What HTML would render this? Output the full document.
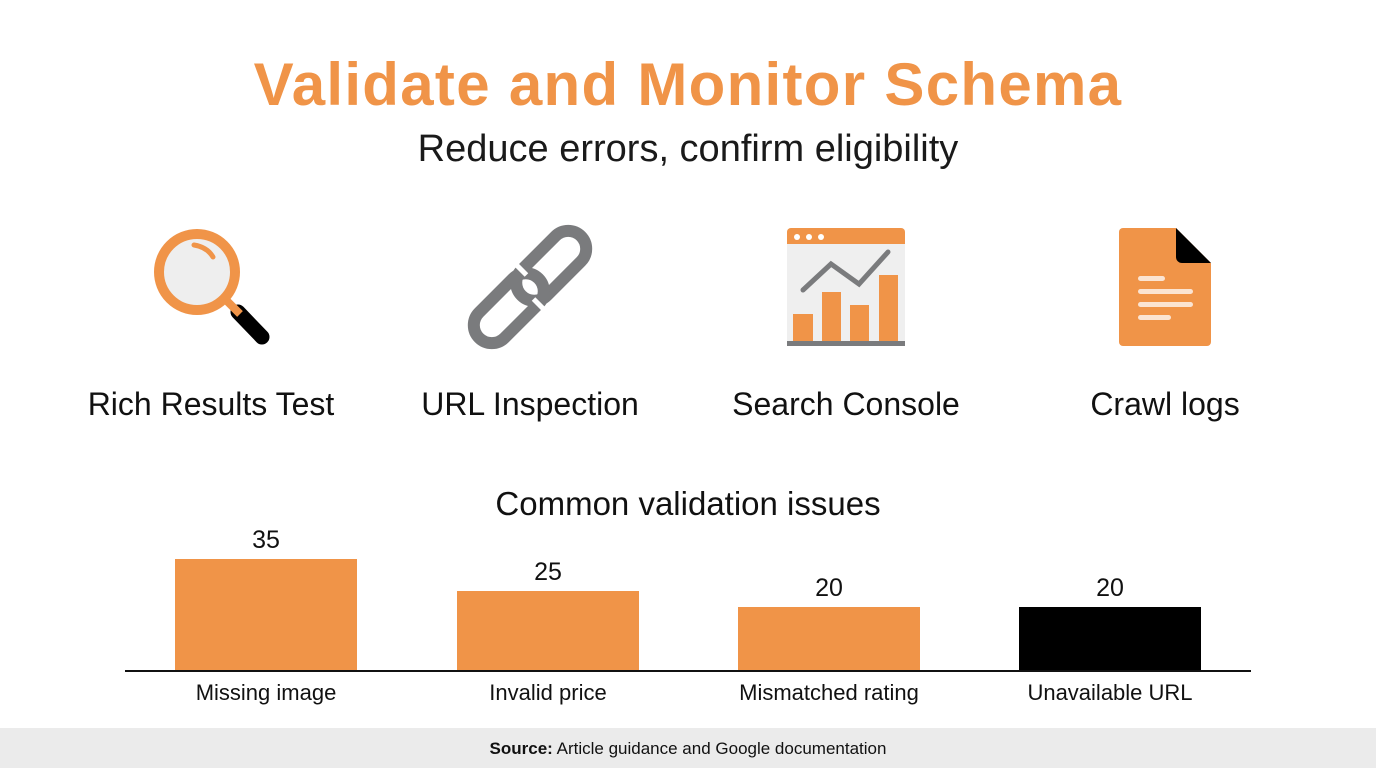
<!DOCTYPE html>
<html><head><meta charset="utf-8"><style>
html,body{margin:0;padding:0;background:#fff;}
body{width:1376px;height:768px;position:relative;overflow:hidden;font-family:"Liberation Sans",sans-serif;color:#111;}
.t{position:absolute;white-space:nowrap;transform:translateX(-50%);line-height:1;}
.bar{position:absolute;background:#F09448;}
</style></head><body>
<div class="t" style="left:688px;top:55px;font-size:60px;font-weight:bold;color:#F09448;letter-spacing:1.3px;">Validate and Monitor Schema</div>
<div class="t" style="left:688px;top:130px;font-size:38px;color:#1a1a1a;">Reduce errors, confirm eligibility</div>

<svg width="1376" height="400" style="position:absolute;left:0;top:0">
  <!-- magnifier -->
  <line x1="238" y1="312" x2="262" y2="337" stroke="#000" stroke-width="15" stroke-linecap="round"/>
  <line x1="226" y1="300" x2="240" y2="314" stroke="#F09448" stroke-width="8"/>
  <circle cx="197" cy="272" r="38" fill="#eeeeee" stroke="#F09448" stroke-width="10"/>
  <path d="M194 245 Q207 247 213 257" fill="none" stroke="#F09448" stroke-width="5" stroke-linecap="round"/>
  <!-- link -->
  <g transform="rotate(-45 530 287)" fill="none" stroke-width="12" stroke="#7a7b7d">
    <rect x="518" y="269" width="84" height="36" rx="18"/>
    <rect x="458" y="269" width="84" height="36" rx="18"/>
    <line x1="536" y1="262" x2="536" y2="276" stroke="#fff" stroke-width="5"/>
    <line x1="524" y1="298" x2="524" y2="312" stroke="#fff" stroke-width="5"/>
  </g>
  <!-- console -->
  <rect x="787" y="228" width="118" height="118" rx="4" fill="#efefef"/>
  <path d="M787 244 V232 a4 4 0 0 1 4 -4 H901 a4 4 0 0 1 4 4 V244 Z" fill="#F09448"/>
  <circle cx="797" cy="237" r="3" fill="#fff"/><circle cx="809" cy="237" r="3" fill="#fff"/><circle cx="821" cy="237" r="3" fill="#fff"/>
  <polyline points="803,290 831,264 859,284 888,252" fill="none" stroke="#7a7b7d" stroke-width="5" stroke-linecap="round"/>
  <rect x="793" y="314" width="20" height="28" fill="#F09448"/>
  <rect x="822" y="292" width="19" height="50" fill="#F09448"/>
  <rect x="850" y="305" width="19" height="37" fill="#F09448"/>
  <rect x="879" y="275" width="19" height="67" fill="#F09448"/>
  <rect x="787" y="341" width="118" height="5" fill="#7a7b7d"/>
  <!-- doc -->
  <path d="M1123 228 H1176 L1211 263 V342 a4 4 0 0 1 -4 4 H1123 a4 4 0 0 1 -4 -4 V232 a4 4 0 0 1 4 -4Z" fill="#F09448"/>
  <path d="M1176 228 L1211 263 H1182 a6 6 0 0 1 -6 -6Z" fill="#000"/>
  <rect x="1138" y="276" width="27" height="5" rx="2.5" fill="#fbe4d2"/>
  <rect x="1138" y="289" width="55" height="5" rx="2.5" fill="#fbe4d2"/>
  <rect x="1138" y="302" width="55" height="5" rx="2.5" fill="#fbe4d2"/>
  <rect x="1138" y="315" width="33" height="5" rx="2.5" fill="#fbe4d2"/>
</svg>

<div class="t" style="left:211px;top:388px;font-size:32px;">Rich Results Test</div>
<div class="t" style="left:530px;top:388px;font-size:32px;">URL Inspection</div>
<div class="t" style="left:846px;top:388px;font-size:32px;">Search Console</div>
<div class="t" style="left:1165px;top:388px;font-size:32px;">Crawl logs</div>

<div class="t" style="left:688px;top:487px;font-size:33px;">Common validation issues</div>

<div class="bar" style="left:175px;top:559px;width:182px;height:112px;"></div>
<div class="bar" style="left:457px;top:591px;width:182px;height:80px;"></div>
<div class="bar" style="left:738px;top:607px;width:182px;height:64px;"></div>
<div class="bar" style="left:1019px;top:607px;width:182px;height:64px;background:#000;"></div>
<div style="position:absolute;left:125px;top:670px;width:1126px;height:2px;background:#111;"></div>

<div class="t" style="left:266px;top:528px;font-size:25px;">35</div>
<div class="t" style="left:548px;top:560px;font-size:25px;">25</div>
<div class="t" style="left:829px;top:576px;font-size:25px;">20</div>
<div class="t" style="left:1110px;top:576px;font-size:25px;">20</div>

<div class="t" style="left:266px;top:682px;font-size:22px;">Missing image</div>
<div class="t" style="left:548px;top:682px;font-size:22px;">Invalid price</div>
<div class="t" style="left:829px;top:682px;font-size:22px;">Mismatched rating</div>
<div class="t" style="left:1110px;top:682px;font-size:22px;">Unavailable URL</div>

<div style="position:absolute;left:0;top:728px;width:1376px;height:40px;background:#ebebeb;"></div>
<div class="t" style="left:688px;top:740px;font-size:17px;"><b>Source:</b> Article guidance and Google documentation</div>
</body></html>
